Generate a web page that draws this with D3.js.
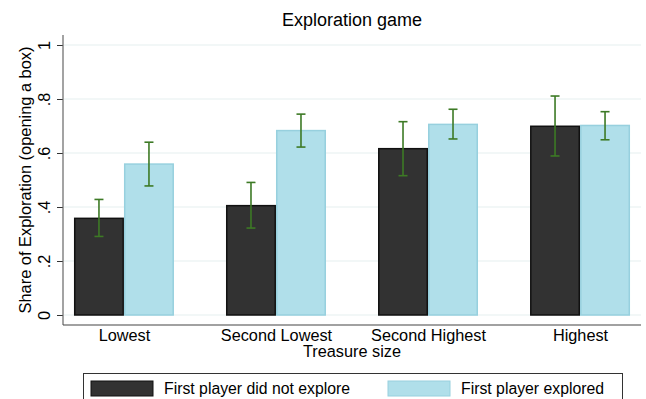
<!DOCTYPE html>
<html>
<head>
<meta charset="utf-8">
<script src="https://cdn.jsdelivr.net/npm/d3@7"></script>
<style>
  html, body { margin: 0; padding: 0; background: #ffffff; }
  svg { display: block; font-family: "Liberation Sans", Arial, sans-serif; }
</style>
</head>
<body>
<svg id="chart" width="646" height="399"></svg>
<script>
// Treasure-size categories and the two groups of first players
const categories = ["Lowest", "Second Lowest", "Second Highest", "Highest"];
const seriesNames = ["First player did not explore", "First player explored"];

// Share of exploration per category, with confidence interval bounds
const notExplored      = [0.358, 0.405, 0.616, 0.699];
const notExploredLow   = [0.291, 0.322, 0.516, 0.589];
const notExploredHigh  = [0.428, 0.491, 0.716, 0.811];
const explored         = [0.559, 0.683, 0.706, 0.702];
const exploredLow      = [0.478, 0.622, 0.652, 0.649];
const exploredHigh     = [0.640, 0.744, 0.762, 0.753];

const yTicks = [0, 0.2, 0.4, 0.6, 0.8, 1];
const yTickLabels = ["0", ".2", ".4", ".6", ".8", "1"];

const colors = ["#323232", "#b0dfea"];
const strokes = ["#111111", "#97d0de"];
const errColor = "#3d7a25";

const svg = d3.select("#chart");
const plot = { left: 63, right: 641, top: 35, bottom: 325 };

const x0 = d3.scalePoint().domain(categories).range([plot.left, plot.right]).padding(0.401);
const x1 = d3.scaleBand().domain(seriesNames).range([-50, 50]).padding(0);
const y = d3.scaleLinear().domain([0, 1]).range([315, 45]);

// Gridlines
svg.append("g")
  .selectAll("line")
  .data(yTicks)
  .join("line")
  .attr("x1", plot.left + 1).attr("x2", plot.right)
  .attr("y1", d => y(d)).attr("y2", d => y(d))
  .attr("stroke", "#e6f0f0").attr("stroke-width", 1.2);

// Bars
const rows = categories.map((c, i) => [
  { cat: c, s: seriesNames[0], v: notExplored[i], lo: notExploredLow[i], hi: notExploredHigh[i], k: 0 },
  { cat: c, s: seriesNames[1], v: explored[i], lo: exploredLow[i], hi: exploredHigh[i], k: 1 }
]).flat();

svg.append("g")
  .selectAll("rect")
  .data(rows)
  .join("rect")
  .attr("x", d => x0(d.cat) + x1(d.s) + 0.75)
  .attr("width", x1.bandwidth() - 1.5)
  .attr("y", d => y(d.v))
  .attr("height", d => y(0) - y(d.v))
  .attr("fill", d => colors[d.k])
  .attr("stroke", d => strokes[d.k])
  .attr("stroke-width", 1.5);

// Confidence intervals
const eb = svg.append("g").attr("stroke", errColor).attr("stroke-width", 1.6);
rows.forEach(d => {
  const cx = x0(d.cat) + x1(d.s) + x1.bandwidth() / 2;
  eb.append("line").attr("x1", cx).attr("x2", cx).attr("y1", y(d.lo)).attr("y2", y(d.hi));
  eb.append("line").attr("x1", cx - 4.5).attr("x2", cx + 4.5).attr("y1", y(d.lo)).attr("y2", y(d.lo));
  eb.append("line").attr("x1", cx - 4.5).attr("x2", cx + 4.5).attr("y1", y(d.hi)).attr("y2", y(d.hi));
});

// Y axis
const yAxis = d3.axisLeft(y).tickValues(yTicks).tickFormat((d, i) => yTickLabels[i]).tickSize(6);
const gy = svg.append("g").attr("transform", `translate(${plot.left},0)`).call(yAxis);
gy.select(".domain").remove();
gy.selectAll(".tick line").attr("stroke", "#333");
gy.selectAll(".tick text")
  .attr("font-size", 16.3).attr("fill", "#000")
  .attr("text-anchor", "middle")
  .attr("x", 0).attr("y", 0).attr("dy", "0")
  .attr("transform", "translate(-13,0) rotate(-90)");

svg.append("line")
  .attr("x1", plot.left).attr("x2", plot.left)
  .attr("y1", plot.top).attr("y2", plot.bottom)
  .attr("stroke", "#666").attr("stroke-width", 1.2);

// X axis
const xAxis = d3.axisBottom(x0).tickSize(0);
const gx = svg.append("g").attr("transform", `translate(0,${plot.bottom})`).call(xAxis);
gx.select(".domain").remove();
gx.selectAll(".tick text").attr("font-size", 16.3).attr("fill", "#000").attr("dy", "0").attr("y", 15.5);
svg.append("line")
  .attr("x1", plot.left).attr("x2", plot.right)
  .attr("y1", plot.bottom).attr("y2", plot.bottom)
  .attr("stroke", "#444").attr("stroke-width", 1.2);

// Titles
svg.append("text").attr("x", (plot.left + plot.right) / 2).attr("y", 26)
  .attr("text-anchor", "middle").attr("font-size", 18).text("Exploration game");
svg.append("text").attr("x", (plot.left + plot.right) / 2).attr("y", 357)
  .attr("text-anchor", "middle").attr("font-size", 16.3).text("Treasure size");
svg.append("text")
  .attr("transform", `translate(31,${(y(0) + y(1)) / 2}) rotate(-90)`)
  .attr("text-anchor", "middle").attr("font-size", 16.4)
  .text("Share of Exploration (opening a box)");

// Legend
const lg = svg.append("g");
lg.append("rect").attr("x", 83.5).attr("y", 373.5).attr("width", 539).attr("height", 40)
  .attr("fill", "#fff").attr("stroke", "#333").attr("stroke-width", 1);
const legendX = [91, 388];
seriesNames.forEach((s, i) => {
  lg.append("rect").attr("x", legendX[i]).attr("y", 381).attr("width", 62).attr("height", 15)
    .attr("fill", colors[i]).attr("stroke", strokes[i]).attr("stroke-width", 1);
  lg.append("text").attr("x", legendX[i] + 73).attr("y", 394)
    .attr("font-size", 15.8).text(s);
});
</script>
</body>
</html>
